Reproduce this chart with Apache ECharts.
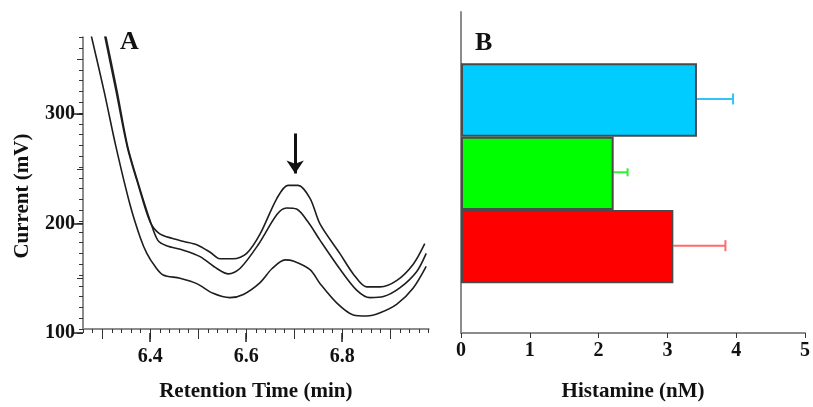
<!DOCTYPE html>
<html>
<head>
<meta charset="utf-8">
<script src="https://cdn.jsdelivr.net/npm/echarts@6/dist/echarts.min.js"></script>
<style>
  html, body { margin: 0; background: #fff; }
  #chart { width: 813px; height: 407px; }
</style>
</head>
<body>
<div id="chart"></div>
<script>
// panel A: chromatograms, [retention time (min), current (mV)]
const traceHigh = [[6.305,372],[6.329,320],[6.352,269],[6.376,232],[6.400,199],[6.420,188],[6.445,184],[6.470,181],[6.497,178],[6.525,171],[6.545,165],[6.573,165],[6.601,170],[6.629,188],[6.664,221],[6.687,233],[6.708,233],[6.733,221],[6.754,197],[6.795,170],[6.823,151],[6.851,139],[6.879,139],[6.914,145],[6.948,160],[6.972,179]];
const traceMid = [[6.307,372],[6.331,320],[6.353,269],[6.377,232],[6.400,200],[6.416,182],[6.434,177],[6.469,173],[6.504,167],[6.539,156],[6.563,151],[6.587,156],[6.625,178],[6.664,206],[6.684,212],[6.705,211],[6.729,199],[6.754,182],[6.796,155],[6.830,136],[6.858,129],[6.886,130],[6.920,138],[6.955,153],[6.975,170]];
const traceLow = [[6.277,372],[6.304,320],[6.328,270],[6.358,215],[6.379,185],[6.393,170],[6.410,158],[6.427,150],[6.462,147],[6.497,142],[6.531,133],[6.566,129],[6.594,132],[6.629,143],[6.654,156],[6.681,164],[6.698,163],[6.733,155],[6.754,142],[6.789,124],[6.823,113],[6.851,112],[6.879,115],[6.914,123],[6.948,138],[6.975,158]];
// histamine peak marker: time, arrow from / to (mV)
const peakTime = 6.702;
const peakArrow = [281, 244];

// panel B
const groups = ['blue', 'green', 'red'];
const histamine = [3.40, 2.20, 3.06];
const histErr = [0.52, 0.20, 0.75];

const barColors = ['#00ccff', '#00ff00', '#ff0000'];
const errColors = ['#33c4f5', '#33ee33', '#ff6a6a'];

const serif = '"Liberation Serif", "DejaVu Serif", serif';
const lab = { fontFamily: serif, fontWeight: 'bold', fontSize: 20, color: '#111' };
const axisGray = { color: '#8c8c8c', width: 2 };
const tickStyle = { color: '#333', width: 1 };

const chart = echarts.init(document.getElementById('chart'));

const traceSeries = (data, extra) => Object.assign({
  type: 'line',
  xAxisIndex: 0,
  yAxisIndex: 0,
  data: data,
  showSymbol: false,
  smooth: 0.3,
  lineStyle: { color: '#1e1e1e', width: 1.6 },
  silent: true
}, extra || {});

chart.setOption({
  animation: false,
  title: [
    { text: 'A', left: 120, top: 29, padding: 0, textStyle: { fontFamily: serif, fontWeight: 'bold', fontSize: 26, color: '#111' } },
    { text: 'B', left: 475, top: 30, padding: 0, textStyle: { fontFamily: serif, fontWeight: 'bold', fontSize: 26, color: '#111' } }
  ],
  grid: [
    { left: 83, right: 384.4, top: 37.35, bottom: 74 },   // A plot, minor ticks
    { left: 102.2, right: 422.8, top: 59.25, bottom: 74 }, // A medium ticks
    { left: 150.2, right: 470.8, top: 114, bottom: 74 },   // A major ticks + labels
    { left: 461, right: 5, top: 12, bottom: 70 },          // B axes
    { left: 461, right: 5, top: 63.3, bottom: 123.7 }      // B bars
  ],
  xAxis: [
    {
      gridIndex: 0, type: 'value', min: 6.26, max: 6.98, interval: 0.02,
      axisLine: { onZero: false, lineStyle: axisGray },
      axisTick: { length: 4, lineStyle: tickStyle },
      axisLabel: { show: false }, splitLine: { show: false },
      name: 'Retention Time (min)', nameLocation: 'middle', nameGap: 52,
      nameTextStyle: Object.assign({}, lab, { fontSize: 21 })
    },
    {
      gridIndex: 1, type: 'value', min: 6.3, max: 6.9, interval: 0.1,
      axisLine: { show: false }, axisTick: { length: 6, lineStyle: tickStyle },
      axisLabel: { show: false }, splitLine: { show: false }
    },
    {
      gridIndex: 2, type: 'value', min: 6.4, max: 6.8, interval: 0.2,
      axisLine: { show: false }, axisTick: { length: 9, lineStyle: { color: '#222', width: 1.5 } },
      axisLabel: Object.assign({ margin: 14, formatter: v => v.toFixed(1) }, lab),
      splitLine: { show: false }
    },
    {
      gridIndex: 3, type: 'value', min: 0, max: 5, interval: 1,
      axisLine: { onZero: false, lineStyle: axisGray },
      axisTick: { length: 5, lineStyle: tickStyle },
      axisLabel: Object.assign({ margin: 8 }, lab), splitLine: { show: false },
      name: 'Histamine (nM)', nameLocation: 'middle', nameGap: 48,
      nameTextStyle: Object.assign({}, lab, { fontSize: 21 })
    },
    { gridIndex: 4, type: 'value', min: 0, max: 5, show: false }
  ],
  yAxis: [
    {
      gridIndex: 0, type: 'value', min: 100, max: 370, interval: 10,
      axisLine: { show: true, onZero: false, lineStyle: axisGray },
      axisTick: { show: true, length: 4, lineStyle: tickStyle },
      axisLabel: { show: false }, splitLine: { show: false }
    },
    {
      gridIndex: 1, type: 'value', min: 100, max: 350, interval: 50, offset: 19.2,
      axisLine: { show: false }, axisTick: { show: true, length: 6, lineStyle: tickStyle },
      axisLabel: { show: false }, splitLine: { show: false },
      name: 'Current (mV)', nameLocation: 'middle', nameGap: 50,
      nameTextStyle: Object.assign({}, lab, { fontSize: 21 })
    },
    {
      gridIndex: 2, type: 'value', min: 100, max: 300, interval: 100, offset: 67.2,
      axisLine: { show: false }, axisTick: { show: true, length: 9, lineStyle: { color: '#222', width: 1.5 } },
      axisLabel: Object.assign({ margin: 8 }, lab), splitLine: { show: false }
    },
    {
      gridIndex: 3, type: 'value', min: 0, max: 1,
      axisLine: { show: true, onZero: false, lineStyle: axisGray },
      axisTick: { show: false }, axisLabel: { show: false }, splitLine: { show: false }
    },
    { gridIndex: 4, type: 'category', data: groups, inverse: true, show: false }
  ],
  series: [
    traceSeries(traceHigh, {
      markLine: {
        silent: true,
        symbol: ['none', 'arrow'],
        symbolSize: 13,
        label: { show: false },
        lineStyle: { color: '#111', width: 3, type: 'solid' },
        itemStyle: { color: '#111' },
        data: [[{ coord: [peakTime, peakArrow[0]] }, { coord: [peakTime, peakArrow[1]] }]]
      }
    }),
    traceSeries(traceMid),
    traceSeries(traceLow),
    {
      type: 'bar',
      xAxisIndex: 4,
      yAxisIndex: 4,
      barWidth: '100%',
      silent: true,
      data: histamine.map((v, i) => ({
        value: v,
        itemStyle: { color: barColors[i], borderColor: '#4a4a4a', borderWidth: 2 }
      }))
    },
    {
      type: 'custom',
      xAxisIndex: 4,
      yAxisIndex: 4,
      silent: true,
      data: histamine.map((v, i) => [i, v, v + histErr[i]]),
      encode: { x: [1, 2], y: 0 },
      renderItem: function (params, api) {
        const i = api.value(0);
        const a = api.coord([api.value(1), i]);
        const b = api.coord([api.value(2), i]);
        const cap = i === 1 ? 8 : 11;
        const st = { stroke: errColors[i], lineWidth: 2 };
        return {
          type: 'group',
          children: [
            { type: 'line', shape: { x1: a[0], y1: a[1] - 1, x2: b[0], y2: b[1] - 1 }, style: st },
            { type: 'line', shape: { x1: b[0], y1: b[1] - 1 - cap / 2, x2: b[0], y2: b[1] - 1 + cap / 2 }, style: st }
          ]
        };
      }
    }
  ]
});
</script>
</body>
</html>
